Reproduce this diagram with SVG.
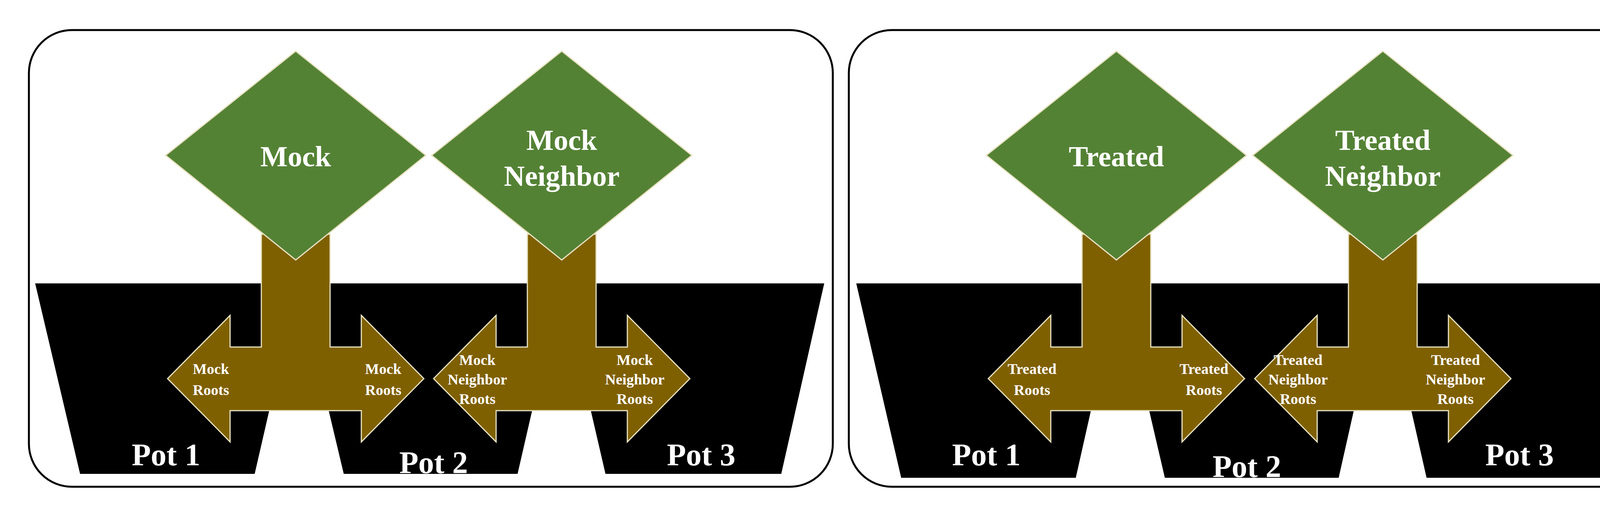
<svg xmlns="http://www.w3.org/2000/svg" width="4296" height="1304" viewBox="0 0 4296 1304">
<style>
.panel{fill:#fff;stroke:#000;stroke-width:5}
.pot{fill:#000}
.leaf{fill:#548235;stroke:#e8e2c0;stroke-width:3}
.root{fill:#7f6000;stroke:#e8e2c0;stroke-width:3}
text{font-family:"Liberation Serif","Times New Roman",serif;font-weight:bold;fill:#fff;text-anchor:middle}
.big{font-size:74px}
.sm{font-size:38px}
.pt{font-size:80px}
</style>
<defs>
<path id="rt" class="root" d="M-88,600 H88 V889 H168 V808 L328,970 L168,1132 V1052 H-168 V1132 L-328,970 L-168,808 V889 H-88 Z"/>
<path id="lf" class="leaf" d="M0,131 L333,398 L0,666 L-333,398 Z"/>
</defs>
<g id="panel-left">
<rect class="panel" x="74" y="77" width="2058" height="1170" rx="110"/>
<polygon id="pot1-l" class="pot" points="90,726 764,726 652,1214 205,1214"/>
<polygon id="pot2-l" class="pot" points="764,726 1437,726 1325,1214 880,1214"/>
<polygon id="pot3-l" class="pot" points="1437,726 2110,726 2000,1214 1550,1214"/>
</g>
<g id="panel-right">
<rect class="panel" x="2173" y="77" width="2055" height="1170" rx="110"/>
<polygon id="pot1-r" class="pot" points="2192,726 2866,726 2754,1224 2307,1224"/>
<polygon id="pot2-r" class="pot" points="2866,726 3539,726 3427,1224 2982,1224"/>
<polygon id="pot3-r" class="pot" points="3539,726 4214,726 4102,1224 3652,1224"/>
</g>
<g id="connectors">
<use href="#rt" x="757"/>
<use href="#rt" x="1438"/>
<use href="#rt" x="2858"/>
<use href="#rt" x="3540"/>
</g>
<g id="mock"><use href="#lf" x="757"/><text class="big" x="757" y="426">Mock</text></g>
<g id="mock-neighbor"><use href="#lf" x="1438"/><text class="big" x="1438" y="384">Mock</text><text class="big" x="1438" y="476">Neighbor</text></g>
<g id="treated"><use href="#lf" x="2858"/><text class="big" x="2858" y="426">Treated</text></g>
<g id="treated-neighbor"><use href="#lf" x="3540"/><text class="big" x="3540" y="384">Treated</text><text class="big" x="3540" y="476">Neighbor</text></g>
<g id="root-labels">
<text class="sm" x="540" y="958">Mock</text><text class="sm" x="540" y="1012">Roots</text>
<text class="sm" x="981" y="958">Mock</text><text class="sm" x="981" y="1012">Roots</text>
<text class="sm" x="1222" y="935">Mock</text><text class="sm" x="1222" y="985">Neighbor</text><text class="sm" x="1222" y="1035">Roots</text>
<text class="sm" x="1625" y="935">Mock</text><text class="sm" x="1625" y="985">Neighbor</text><text class="sm" x="1625" y="1035">Roots</text>
<text class="sm" x="2642" y="958">Treated</text><text class="sm" x="2642" y="1012">Roots</text>
<text class="sm" x="3082" y="958">Treated</text><text class="sm" x="3082" y="1012">Roots</text>
<text class="sm" x="3323" y="935">Treated</text><text class="sm" x="3323" y="985">Neighbor</text><text class="sm" x="3323" y="1035">Roots</text>
<text class="sm" x="3726" y="935">Treated</text><text class="sm" x="3726" y="985">Neighbor</text><text class="sm" x="3726" y="1035">Roots</text>
</g>
<g id="pot-labels">
<text class="pt" x="425" y="1192">Pot 1</text>
<text class="pt" x="1110" y="1212">Pot 2</text>
<text class="pt" x="1795" y="1192">Pot 3</text>
<text class="pt" x="2525" y="1192">Pot 1</text>
<text class="pt" x="3192" y="1222">Pot 2</text>
<text class="pt" x="3890" y="1192">Pot 3</text>
</g>
</svg>
